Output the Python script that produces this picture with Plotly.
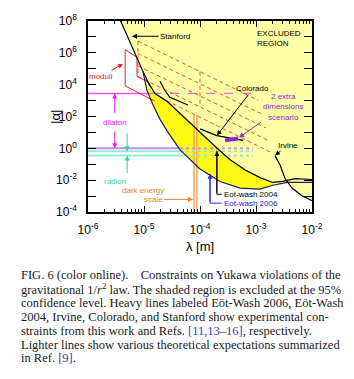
import numpy as np
import plotly.graph_objects as go

# ---------------- data (lambda in m, |alpha|) ----------------
stanford_lam = [3.4e-6, 5.0e-6, 7.5e-6, 9.6e-6, 1.28e-5]
stanford_alpha = [2.6e8, 1.1e7, 5.2e5, 6.6e4, 8.3e3]

e2006_lam = [9.6e-6, 1.13e-5, 1.45e-5, 1.93e-5, 2.58e-5, 4.4e-5, 1.0e-4, 2.28e-4, 5.2e-4, 1.18e-3, 2.0e-3, 3.6e-3, 1.0e-2]
e2006_alpha = [6.6e4, 4.2e3, 5.2e2, 66, 12.6, 0.79, 0.05, 8.3e-3, 3.2e-3, 2.75e-3, 4.8e-3, 7.2e-3, 7.2e-3]

e2004_lam = [1.18e-5, 1.57e-5, 2.58e-5, 4.97e-5, 1.0e-4, 2.0e-4, 3.4e-4, 6.4e-4, 1.18e-3, 2.0e-3, 3.0e-3, 5.0e-3, 1.0e-2]
e2004_alpha = [1.45e4, 2.75e3, 910, 100, 11, 1.05, 0.2, 0.044, 0.0145, 7.2e-3, 8.3e-3, 0.0126, 0.011]

irvine_lam = [2.18e-3, 2.7e-3, 3.3e-3, 4.4e-3, 6.6e-3, 1.0e-2]
irvine_alpha = [0.35, 0.087, 0.0126, 3.2e-3, 1.05e-3, 5.2e-4]

colorado_lam = [1.0e-4, 2.0e-4, 5.9e-4]
colorado_alpha = [16.6, 6.3, 3.2]

other_lam = [1.93e-5, 2.37e-5, 2.9e-5, 6.1e-5]
other_alpha = [1.66e4, 4.2e3, 1.6e3, 525]

moduli_lam = [1.18e-5, 7.5e-6, 7.5e-6, 4.6e-6, 4.6e-6, 1.57e-5]
moduli_alpha = [1.45e4, 3.3e4, 5.2e5, 1.6e6, 8.3e3, 910]

# dashed theoretical region (segments: lam0, alpha0, lam1, alpha1)
dashed_segments = [
    (7.8e-6, 5.5e6, 1.09e-3, 1.05e3),
    (7.8e-6, 9.1e5, 1.33e-3, 132),
    (7.8e-6, 1.5e5, 1.51e-3, 19),
    (7.8e-6, 3.3e4, 1.78e-3, 2.75),
    (1.93e-5, 1.6e3, 1.93e-3, 0.52),
    (7.8e-6, 5.5e6, 7.8e-6, 3.3e4),
    (1.0e-4, 6.6e4, 1.0e-4, 400),
]

extra_dim_lam = [2.8e-4, 4.8e-4]
extra_dim_alpha = [3.16, 4.2]

dark_energy_lam = [7.8e-5, 8.8e-5]
dark_energy_alpha = [130, 1e-4]

dilaton_alpha = [2.8e3, 1.0]
radion_alpha = [0.65, 0.35]
theory_lam_start = 1e-6
theory_lam_end = 8.8e-4
dilaton_enter = 1.4e-5
low_enter = 4.4e-5

x_ticks = [1e-6, 1e-5, 1e-4, 1e-3, 1e-2]
x_ticktext = ["10<sup>-6</sup>", "10<sup>-5</sup>", "10<sup>-4</sup>", "10<sup>-3</sup>", "10<sup>-2</sup>"]
y_exps = list(range(-4, 9))
y_ticks = [10.0 ** k for k in y_exps]
y_ticktext = [f"10<sup>{k}</sup>" if k % 2 == 0 else "" for k in y_exps]
x_minor = [m * 10.0 ** k for k in range(-6, -2) for m in range(2, 10)]

caption_lines = [
    "FIG. 6 (color online).\u00a0\u00a0\u00a0\u00a0Constraints on Yukawa violations of the",
    "gravitational 1/<i>r</i><sup>2</sup> law. The shaded region is excluded at the 95%",
    "confidence level. Heavy lines labeled Eöt-Wash 2006, Eöt-Wash",
    "2004, Irvine, Colorado, and Stanford show experimental con-",
    "straints from this work and Refs. <span style='color:#2b3fa8'>[11,13–16]</span>, respectively.",
    "Lighter lines show various theoretical expectations summarized",
    "in Ref. <span style='color:#2b3fa8'>[9]</span>.",
]

# ---------------- figure ----------------
W, H = 354, 379
L, R, T, B = 88, 312, 12, 212


def xp(px):
    return (px - L) / (R - L)


def yp(py):
    return (B - py) / (B - T)


fig = go.Figure()

PALE = "rgb(255,255,165)"
BRIGHT = "rgb(255,250,20)"

# excluded region (pale)
pale_x = stanford_lam[:4] + e2006_lam[1:12] + irvine_lam[3:] + [1e-2, 1e-2]
pale_y = stanford_alpha[:4] + e2006_alpha[1:12] + irvine_alpha[3:] + [2.6e8, 2.6e8]
pale_x[-1] = stanford_lam[0]
fig.add_trace(go.Scatter(x=pale_x, y=pale_y, fill="toself", fillcolor=PALE,
                         mode="lines", line=dict(width=0), hoverinfo="skip"))
# new region (bright)
br_x = e2006_lam[1:11] + e2004_lam[:10][::-1]
br_y = e2006_alpha[1:11] + e2004_alpha[:10][::-1]
fig.add_trace(go.Scatter(x=br_x, y=br_y, fill="toself", fillcolor=BRIGHT,
                         mode="lines", line=dict(width=0), hoverinfo="skip"))

# dark energy scale
for lam in dark_energy_lam:
    fig.add_trace(go.Scatter(x=[lam, lam], y=dark_energy_alpha, mode="lines",
                             line=dict(color="rgb(245,170,95)", width=1.6)))

# horizontal theory lines
fig.add_trace(go.Scatter(x=[theory_lam_start, dilaton_enter], y=[dilaton_alpha[0]] * 2, mode="lines",
                         line=dict(color="rgb(255,80,255)", width=1.5)))
fig.add_trace(go.Scatter(x=[dilaton_enter, theory_lam_end], y=[dilaton_alpha[0]] * 2, mode="lines",
                         line=dict(color="rgb(255,100,230)", width=1.2, dash="dash")))
fig.add_trace(go.Scatter(x=[theory_lam_start, low_enter], y=[dilaton_alpha[1]] * 2, mode="lines",
                         line=dict(color="rgb(200,140,230)", width=2)))
fig.add_trace(go.Scatter(x=[low_enter, theory_lam_end], y=[dilaton_alpha[1]] * 2, mode="lines",
                         line=dict(color="rgb(200,140,230)", width=1.6, dash="dot")))
for a in radion_alpha:
    fig.add_trace(go.Scatter(x=[theory_lam_start, low_enter], y=[a, a], mode="lines",
                             line=dict(color="rgb(150,235,215)", width=2)))
    fig.add_trace(go.Scatter(x=[low_enter, theory_lam_end], y=[a, a], mode="lines",
                             line=dict(color="rgb(150,225,200)", width=1.6, dash="dot")))

# dashed red theory region
dx, dy = [], []
for l0, a0, l1, a1 in dashed_segments:
    dx += [l0, l1, None]
    dy += [a0, a1, None]
fig.add_trace(go.Scatter(x=dx, y=dy, mode="lines",
                         line=dict(color="rgb(225,90,40)", width=1, dash="4px,3px")))

# moduli
fig.add_trace(go.Scatter(x=moduli_lam, y=moduli_alpha, mode="lines",
                         line=dict(color="rgb(225,40,50)", width=1)))

# experimental curves
for lx, ly, c in [(stanford_lam, stanford_alpha, "black"),
                  (e2004_lam, e2004_alpha, "black"),
                  (e2006_lam, e2006_alpha, "rgb(30,30,90)"),
                  (irvine_lam, irvine_alpha, "black"),
                  (colorado_lam, colorado_alpha, "black"),
                  (other_lam, other_alpha, "black")]:
    fig.add_trace(go.Scatter(x=lx, y=ly, mode="lines", line=dict(color=c, width=1.2)))

# 2 extra dimensions mark
fig.add_trace(go.Scatter(x=extra_dim_lam, y=extra_dim_alpha, mode="lines",
                         line=dict(color="rgb(140,40,220)", width=4)))

# elbow legs of the Eot-wash labels
fig.add_trace(go.Scatter(x=[2.0e-4, 2.0e-4, 2.45e-4], y=[0.69, 1.3e-3, 1.3e-3], mode="lines",
                         line=dict(color="black", width=1)))
fig.add_trace(go.Scatter(x=[1.51e-4, 1.51e-4, 2.45e-4], y=[0.025, 3.6e-4, 3.6e-4], mode="lines",
                         line=dict(color="rgb(40,40,220)", width=1)))

lg = np.log10
FS = 8
ann = []


def arrow(tip, tail, color, text="", width=1, head=2, size=1.0):
    ann.append(dict(x=lg(tip[0]), y=lg(tip[1]), ax=lg(tail[0]), ay=lg(tail[1]),
                    xref="x", yref="y", axref="x", ayref="y", text=text,
                    showarrow=True, arrowhead=head, arrowsize=size, arrowwidth=width,
                    arrowcolor=color, font=dict(family="Liberation Sans", size=FS, color=color)))


def label(pos, text, color, anchor="center"):
    ann.append(dict(x=lg(pos[0]), y=lg(pos[1]), xref="x", yref="y", text=text,
                    showarrow=False, xanchor=anchor, yanchor="middle", align=anchor,
                    font=dict(family="Liberation Sans", size=FS, color=color)))


arrow((6.1e-6, 1.1e7), (3.6e-5, 1.1e7), "black", "Stanford")
label((9.6e-4, 8.3e6), "EXCLUDED<br>REGION", "black", anchor="left")
arrow((4.2e-6, 2.0e5), (1.7e-6, 3.3e4), "rgb(225,30,40)", "moduli")
label((3.0e-6, 44), "dilaton", "rgb(235,30,235)")
arrow((3.0e-6, dilaton_alpha[0]), (3.0e-6, 132), "rgb(235,30,235)")
arrow((3.0e-6, dilaton_alpha[1]), (3.0e-6, 14.5), "rgb(235,30,235)")
label((3.0e-6, 8.3e-3), "radion", "rgb(40,215,160)")
arrow((5.0e-6, radion_alpha[0]), (5.0e-6, 11), "rgb(40,215,160)")
arrow((5.0e-6, radion_alpha[1]), (5.0e-6, 0.022), "rgb(40,215,160)")
label((9.6e-6, 2.3e-3), "dark energy", "rgb(235,130,40)")
arrow((7.5e-5, 6.2e-4), (1.45e-5, 6.2e-4), "rgb(235,130,40)", "scale")
arrow((2.0e-4, 6.3), (8.8e-4, 5.5e3), "black", "Colorado")
arrow((5.0e-4, 4.8), (3.0e-3, 400), "rgb(140,40,220)", "2 extra<br>dimensions<br>scenario")
arrow((2.18e-3, 0.35), (3.7e-3, 1.6), "black", "Irvine")
arrow((2.0e-4, 0.69), (2.0e-4, 1.3e-3), "black")
arrow((1.51e-4, 0.025), (1.51e-4, 3.6e-4), "rgb(40,40,220)")
label((2.5e-4, 1.3e-3), "Eot-wash 2004", "black", anchor="left")
label((2.5e-4, 3.6e-4), "Eot-wash 2006", "rgb(40,40,220)", anchor="left")

# axis titles
ann.append(dict(x=xp(200), y=yp(258), xref="paper", yref="paper", text="λ [m]", showarrow=False,
                font=dict(family="Liberation Sans", size=13, color="black")))
ann.append(dict(x=xp(46), y=yp(113), xref="paper", yref="paper", text="|α|", showarrow=False,
                textangle=-90, font=dict(family="Liberation Sans", size=13, color="black")))

# caption
for i, line in enumerate(caption_lines):
    ann.append(dict(x=xp(19), y=yp(278.3 + 14.5 * i), xref="paper", yref="paper", text=line,
                    showarrow=False, xanchor="left", yanchor="middle",
                    font=dict(family="Liberation Serif", size=12.5, color="#1a1a1a")))

axis_common = dict(showline=True, linecolor="black", linewidth=1.5, mirror="allticks",
                   ticks="inside", tickcolor="black", tickwidth=1, showgrid=False, zeroline=False,
                   tickfont=dict(family="Liberation Sans", size=12, color="black"))
fig.update_layout(
    width=W, height=H, margin=dict(l=L, r=W - R, t=T, b=H - B),
    paper_bgcolor="white", plot_bgcolor="white", showlegend=False,
    annotations=ann,
    xaxis=dict(type="log", range=[-6, -2], tickvals=x_ticks, ticktext=x_ticktext, ticklen=6,
               ticklabelstandoff=6,
               minor=dict(tickvals=x_minor, ticks="inside", ticklen=3.5, tickcolor="black", showgrid=False),
               **axis_common),
    yaxis=dict(type="log", range=[-4, 8], tickvals=y_ticks, ticktext=y_ticktext, ticklen=8,
               ticklabelstandoff=7, **axis_common),
)
fig.write_html("out.html")
